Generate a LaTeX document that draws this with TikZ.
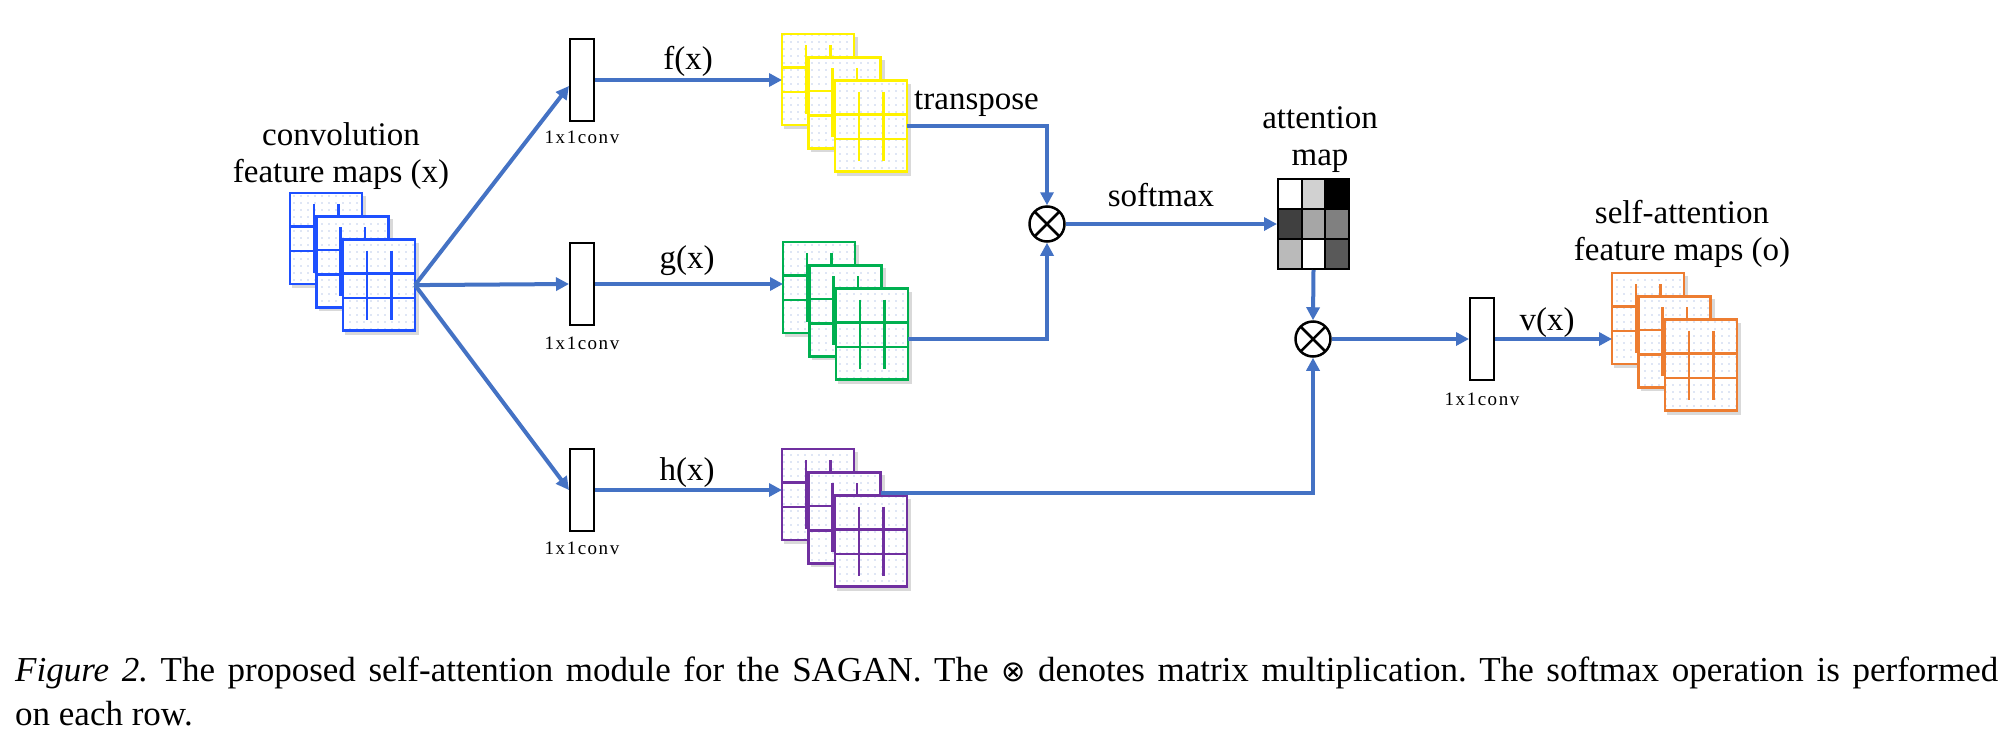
\documentclass[tikz,border=0pt]{standalone}
\usepackage{fontspec}
\setmainfont{Liberation Serif}
\newfontfamily\convfont[LetterSpace=8]{Liberation Serif}
\newfontfamily\symfont{DejaVu Sans}
\usetikzlibrary{arrows.meta,patterns.meta,calc}
\definecolor{arrblue}{RGB}{68,114,196}
\definecolor{dotblue}{RGB}{120,150,215}
\definecolor{fmblue}{RGB}{30,80,255}
\definecolor{fmyellow}{RGB}{255,242,0}
\definecolor{fmgreen}{RGB}{0,176,80}
\definecolor{fmpurple}{RGB}{112,48,160}
\definecolor{fmorange}{RGB}{237,125,49}
\newcommand\fmsheet[4]{%
  \fill[black,opacity=0.15] (#3+2,#4+3) rectangle ++(74,92);
  \fill[white] (#3,#4) rectangle ++(72,91);
  \fill[pattern={Dots[radius=0.7pt,distance=7pt]}, pattern color=dotblue] (#3,#4) rectangle ++(72,91);
  \draw[#2, line width=2.5pt] (#3,#4+33.7) -- ++(72,0) (#3,#4+58.2) -- ++(72,0)
     (#3+24,#4+11) -- ++(0,69) (#3+48.5,#4+11) -- ++(0,69);
  \node[fmframe=#2] (#1) at (#3,#4) {};
}
\newcommand\fmstack[4]{%
  \fmsheet{#11}{#2}{#3}{#4}
  \fmsheet{#12}{#2}{#3+26.5}{#4+23.3}
  \fmsheet{#13}{#2}{#3+53}{#4+46.6}
}
\newcommand\attcell[3]{\fill[#3] (1278+#1*23.667,179+#2*30) rectangle ++(23.667,30);}
\begin{document}
\frenchspacing
\begin{tikzpicture}[x=1pt,y=-1pt,
  arr/.style={draw=arrblue, line width=4pt, -{Triangle[length=13pt,width=13pt]}},
  fmframe/.style={draw=#1, line width=2.5pt, minimum width=72pt, minimum height=91pt, inner sep=0pt, outer sep=0pt, anchor=north west},
  convbox/.style={draw=black, fill=white, line width=2pt, minimum width=24pt, minimum height=82pt, inner sep=0pt},
  convlbl/.style={font=\convfont\fontsize{19}{22}\selectfont, anchor=base, inner sep=0pt},
  otimesnode/.style={circle, draw=black, line width=2.5pt, fill=white, minimum size=35pt, inner sep=0pt,
     path picture={\draw[line width=2.5pt] (path picture bounding box.north west) -- (path picture bounding box.south east)
        (path picture bounding box.north east) -- (path picture bounding box.south west);}},
  big/.style={font=\fontsize{33}{37}\selectfont, anchor=base, inner sep=0pt},
]
\fill[white] (0,0) rectangle (2008,742);
\useasboundingbox (0,0) rectangle (2008,742);

% feature map stacks
\fmstack{b}{fmblue}{290}{193}
\fmstack{y}{fmyellow}{782}{34}
\fmstack{g}{fmgreen}{783}{242}
\fmstack{p}{fmpurple}{782}{449}
\fmstack{o}{fmorange}{1612}{273}

% 1x1 conv boxes
\node[convbox] (c1) at (582,80) {};
\node[convbox] (c2) at (582,284) {};
\node[convbox] (c3) at (582,490) {};
\node[convbox] (c4) at (1482,339) {};
\node[convlbl] (l1) at (582,143) {1x1conv};
\node[convlbl] (l2) at (582,349) {1x1conv};
\node[convlbl] (l3) at (582,554) {1x1conv};
\node[convlbl] (l4) at (1482,405) {1x1conv};

% multiplication nodes
\node[otimesnode] (m1) at (1047,224) {};
\node[otimesnode] (m2) at (1313,339) {};

% attention map
\attcell{0}{0}{white}
\attcell{1}{0}{black!18}
\attcell{2}{0}{black}
\attcell{0}{1}{black!75}
\attcell{1}{1}{black!35}
\attcell{2}{1}{black!50}
\attcell{0}{2}{black!27}
\attcell{1}{2}{white}
\attcell{2}{2}{black!65}
\draw[line width=2pt] (1278+23.667,179) -- ++(0,90) (1278+47.333,179) -- ++(0,90)
   (1278,209) -- ++(71,0) (1278,239) -- ++(71,0);
\node[draw=black, line width=2pt, minimum width=71pt, minimum height=90pt, inner sep=0pt] (att) at (1313.5,224) {};

% labels (multi-line nodes are anchored at the baseline of their last line)
\node[big, align=center] (convtxt) at (341,182) {convolution\\feature maps (x)};
\node[big] (fx) at (688,69) {f(x)};
\node[big] (gx) at (687,268) {g(x)};
\node[big] (hx) at (687,480) {h(x)};
\node[big] (vx) at (1547,330) {v(x)};
\node[big, anchor=base west] (tr) at (914,109) {transpose};
\node[big] (sm) at (1161,206) {softmax};
\node[big, align=center] (atttxt) at (1320,165) {attention\\map};
\node[big, align=center] (satxt) at (1682,260) {self-attention\\feature maps (o)};

% connectors
\draw[arr] (b3.east) -- ([yshift=-6pt]c1.west);
\draw[arr] (b3.east) -- (c2.west);
\draw[arr] (b3.east) -- (c3.west);
\draw[arr] (c1.east) -- (c1.east -| y1.west);
\draw[arr] (c2.east) -- (c2.east -| g1.west);
\draw[arr] (c3.east) -- (c3.east -| p1.west);
\draw[arr] (y3.east) -| (m1.north);
\draw[arr] ([yshift=-5pt]g3.east) -| (m1.south);
\draw[arr] ([yshift=25pt]p2.east) -| (m2.south);
\draw[arr] (m1.east) -- (att.west);
\draw[arr] (att.south) -- (m2.north);
\draw[arr] (m2.east) -- (c4.west);
\draw[arr] (c4.east) -- (c4.east -| o1.west);

% caption
\node[anchor=base west, inner sep=0pt, align=left, font=\fontsize{35}{44}\selectfont] (cap) at (15,725)
 {\makebox[1983pt][s]{\textit{Figure 2.} The proposed self-attention module for the SAGAN. The {\symfont\fontsize{29}{30}\selectfont ⊗} denotes matrix multiplication. The softmax operation is performed}\\on each row.};
\end{tikzpicture}
\end{document}
